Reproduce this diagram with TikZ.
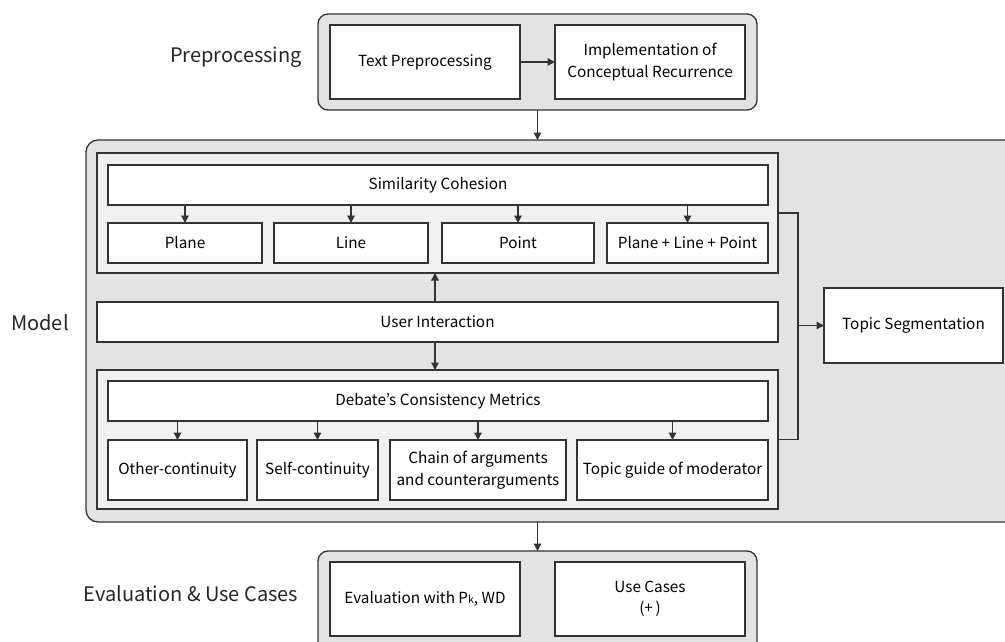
\documentclass[tikz,border=0pt]{standalone}
\usepackage{fontspec}
\setmainfont{Noto Sans CJK KR}
\usetikzlibrary{arrows.meta,calc}
\definecolor{outerfill}{HTML}{E3E3E3}
\definecolor{panelfill}{HTML}{F0F0F0}
\definecolor{edge}{HTML}{333333}
\tikzset{
  base/.style={draw=edge, line width=1.3pt, inner sep=0pt, outer sep=0pt, align=center, font=\fontsize{15.3}{21.5}\selectfont},
  wbox/.style={base, fill=white},
  panel/.style={base, fill=panelfill},
  outerbox/.style={base, fill=outerfill, rounded corners=10pt},
  arr/.style={draw=edge, line width=1.3pt, -{Triangle[width=7.5pt,length=7.5pt]}},
  conn/.style={draw=edge, line width=1.3pt},
  lbl/.style={font=\fontsize{20}{24}\selectfont, text=black!85}
}
\begin{document}
\begin{tikzpicture}[x=1pt,y=-1pt]
\clip (0,0) rectangle (1005,642);
\fill[white] (0,0) rectangle (1005,642);
% section labels
\node[lbl] (lpre) at (236,57) {Preprocessing};
\node[lbl] (lmod) at (40,323) {Model};
\node[lbl] (leval) at (191,594) {Evaluation \& Use Cases};
% preprocessing
\node[outerbox, minimum width=439pt, minimum height=96pt] (pre) at (537.5,62) {};
\node[wbox, minimum width=190pt, minimum height=74pt] (textpre) at (425,62) {Text Preprocessing};
\node[wbox, minimum width=190pt, minimum height=74pt] (impl) at (650,62) {Implementation of\\Conceptual Recurrence};
\draw[arr] (textpre) -- (impl);
% model
\node[outerbox, minimum width=934pt, minimum height=382pt, rounded corners=12pt] (model) at (553,331) {};
\draw[arr] (pre.south) -- (pre.south |- model.north);
\node[panel, minimum width=681pt, minimum height=120pt] (panel1) at (437.5,213) {};
\node[wbox, minimum width=660pt, minimum height=40pt] (sim) at (438,185) {Similarity Cohesion};
\node[wbox, minimum width=154pt, minimum height=40pt] (plane) at (185,243) {Plane};
\node[wbox, minimum width=154pt, minimum height=40pt] (line) at (351,243) {Line};
\node[wbox, minimum width=152pt, minimum height=40pt] (point) at (518,243) {Point};
\node[wbox, minimum width=161pt, minimum height=40pt] (plp) at (687.5,243) {Plane + Line + Point};
\foreach \n in {plane,line,point,plp} \draw[arr] (\n.north |- sim.south) -- (\n.north);
\node[wbox, minimum width=681pt, minimum height=40pt] (ui) at (437.5,322) {User Interaction};
\node[panel, minimum width=681pt, minimum height=139pt] (panel2) at (437.5,439.5) {};
\node[wbox, minimum width=660pt, minimum height=40pt] (deb) at (438,401) {Debate’s Consistency Metrics};
\node[wbox, minimum width=139pt, minimum height=60pt] (other) at (177.5,470) {Other-continuity};
\node[wbox, minimum width=121pt, minimum height=60pt] (self) at (317.5,470) {Self-continuity};
\node[wbox, minimum width=176pt, minimum height=60pt] (chain) at (478,470) {Chain of arguments\\and counterarguments};
\node[wbox, minimum width=191pt, minimum height=60pt] (guide) at (672.5,470) {Topic guide of moderator};
\foreach \n in {other,self,chain,guide} \draw[arr] (\n.north |- deb.south) -- (\n.north);
\coordinate (ua) at (435,0);
\draw[arr] (ua |- ui.north) -- (ua |- panel1.south);
\draw[arr] (ua |- ui.south) -- (ua |- panel2.north);
\node[wbox, minimum width=179pt, minimum height=75pt] (seg) at (913.5,325.5) {Topic Segmentation};
\coordinate (bus) at (798,325.5);
\draw[conn] (panel1.east) -| (bus) |- (panel2.east);
\draw[arr] (bus) -- (seg.west);
% evaluation
\node[outerbox, minimum width=439pt, minimum height=104pt] (evo) at (537.5,603) {};
\draw[arr] (model.south -| evo.north) -- (evo.north);
\node[wbox, minimum width=190pt, minimum height=74pt] (evb) at (425,599) {Evaluation with P{\fontsize{10.5}{10}\selectfont k}, WD};
\node[wbox, minimum width=190pt, minimum height=74pt] (use) at (650,599) {Use Cases\\(+\,)};
\end{tikzpicture}
\end{document}
